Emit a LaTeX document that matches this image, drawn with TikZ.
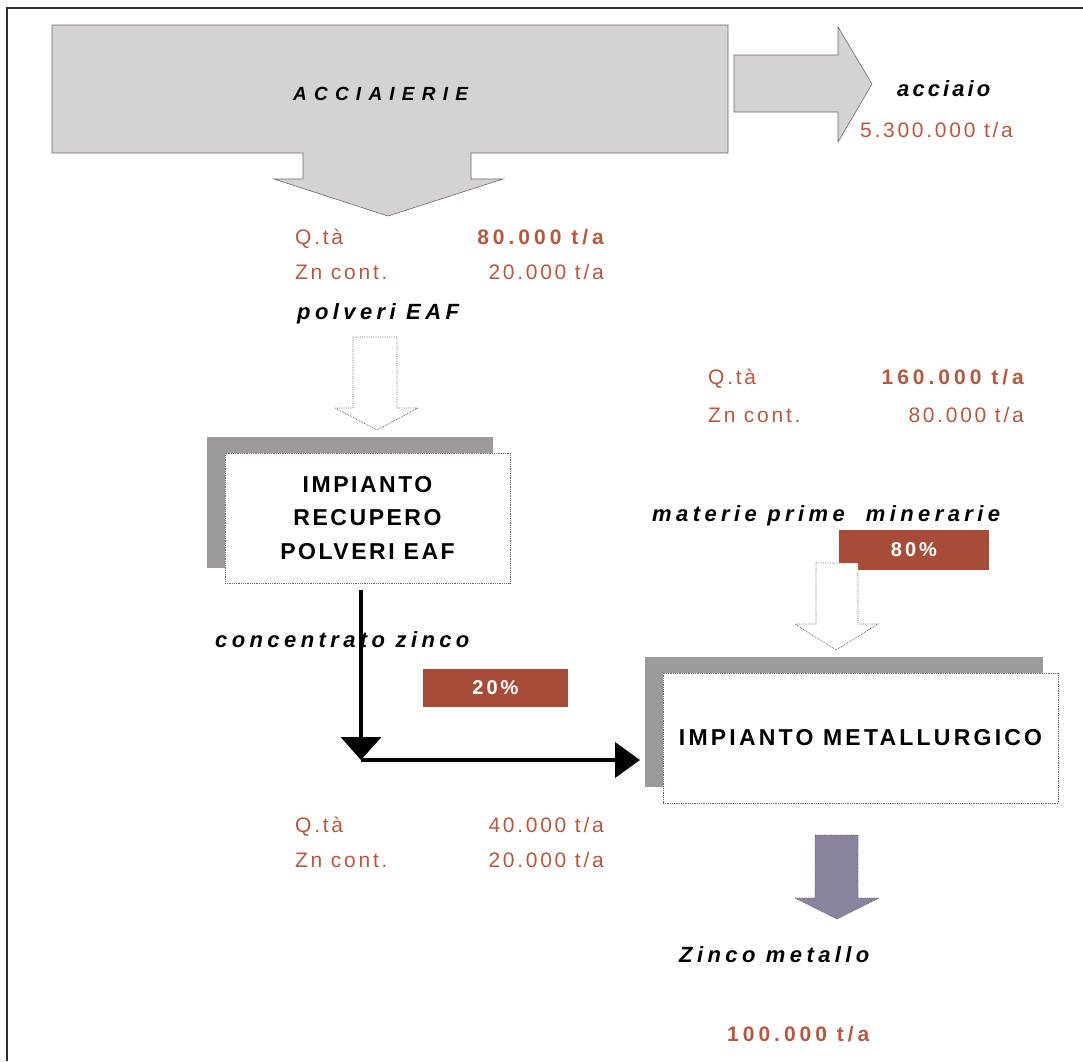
\documentclass[tikz,border=0pt]{standalone}
\usepackage{fontspec}
\setmainfont{Liberation Sans}
\newfontfamily\datafont{Liberation Sans}[LetterSpace=13]
\newfontfamily\databf{Liberation Sans}[LetterSpace=19]
\newfontfamily\labfont{Liberation Sans}[LetterSpace=20]
\newfontfamily\accfont{Liberation Sans}[LetterSpace=14]
\newfontfamily\boxfont{Liberation Sans}[LetterSpace=11]
\newfontfamily\metfont{Liberation Sans}[LetterSpace=14]
\newfontfamily\pctfont{Liberation Sans}[LetterSpace=15]
\newfontfamily\titfont{Liberation Sans}[LetterSpace=38]
\usetikzlibrary{arrows.meta}
\definecolor{brn}{RGB}{182,88,64}
\definecolor{pct}{RGB}{168,76,58}
\definecolor{accfill}{RGB}{214,210,209}
\definecolor{shd}{RGB}{158,154,154}
\definecolor{purp}{RGB}{138,130,158}
\definecolor{framec}{RGB}{45,45,45}
\definecolor{edge}{RGB}{110,105,105}
\tikzset{
  data/.style={font=\datafont\fontsize{21}{24}\selectfont, text=brn, inner sep=0, anchor=base west},
  datar/.style={data, anchor=base east},
  datab/.style={font=\databf\bfseries\fontsize{21}{24}\selectfont, text=brn, inner sep=0, anchor=base east},
  lab/.style={font=\labfont\bfseries\itshape\fontsize{22}{25}\selectfont, inner sep=0, anchor=base west},
  shadowbox/.style={fill=shd, draw=none, inner sep=0},
  blk/.style={fill=white, draw=edge, densely dotted, line width=0.8, inner sep=0, align=center,
    font=\boxfont\bfseries\fontsize{23}{33.5}\selectfont},
  pctbox/.style={fill=pct, text=white, inner sep=0, font=\pctfont\bfseries\fontsize{20}{22}\selectfont},
  hollow/.style={fill=white, draw=edge, densely dotted, line width=0.8},
  blockarrow/.style={fill=accfill, draw=edge, line width=0.6},
  conn/.style={line width=4, draw=black}
}
\begin{document}
\begin{tikzpicture}[x=1pt,y=-1pt]
\useasboundingbox (0,0) rectangle (1083,1061);
% frame
\draw[framec, line width=2] (7,1061) -- (7,8) -- (1083,8);
% ACCIAIERIE block with down arrow
\path[blockarrow] (52,25) -- (728,25) -- (728,153) -- (471,153) -- (471,179) -- (503,179)
  -- (388,216) -- (274,179) -- (303,179) -- (303,153) -- (52,153) -- cycle;
\node[font=\titfont\bfseries\itshape\fontsize{19}{21}\selectfont, inner sep=0, anchor=base west] (acc) at (293,100) {ACCIAIERIE};
% right arrow
\path[blockarrow] (734,55) -- (838,55) -- (838,27) -- (872,84) -- (838,142) -- (838,112) -- (734,112) -- cycle;
\node[font=\accfont\bfseries\itshape\fontsize{22}{25}\selectfont, inner sep=0, anchor=base west] (acciaio) at (897,96) {acciaio};
\node[data] (steelq) at (860,137) {5.300.000 t/a};
% first data block
\node[data] (q1) at (295,244) {Q.tà};
\node[datab] (q1v) at (604,244) {80.000 t/a};
\node[data] (z1) at (295,279) {Zn cont.};
\node[datar] (z1v) at (604,279) {20.000 t/a};
\node[lab] (polv) at (297,319) {polveri EAF};
% hollow arrow 1
\path[hollow] (353,337) -- (397,337) -- (397,408) -- (418,408) -- (377,430) -- (335,408) -- (353,408) -- cycle;
% box 1
\node[shadowbox, minimum width=286, minimum height=131] (recsh) at (350,502.5) {};
\node[blk, minimum width=285, minimum height=130] (rec) at (367.5,518) {IMPIANTO\\RECUPERO\\POLVERI EAF};
% second data block
\node[data] (q2) at (708,384) {Q.tà};
\node[datab] (q2v) at (1024,384) {160.000 t/a};
\node[data] (z2) at (708,422) {Zn cont.};
\node[datar] (z2v) at (1024,422) {80.000 t/a};
\node[lab] (mat) at (652,521) {materie prime \ minerarie};
\node[pctbox, minimum width=150, minimum height=40] (p80) at (914,550) {80\%};
% hollow arrow 2
\path[hollow] (816,563) -- (858,563) -- (858,624) -- (878,624) -- (836,650) -- (795,624) -- (816,624) -- cycle;
% metallurgico box
\node[shadowbox, minimum width=398, minimum height=130] (metsh) at (844,722) {};
\node[blk, font=\metfont\bfseries\fontsize{23}{33.5}\selectfont, minimum width=395, minimum height=130] (met) at (860.5,738) {IMPIANTO METALLURGICO};
% concentrato
\node[lab] (conc) at (215,647) {concentrato zinco};
\node[pctbox, minimum width=145, minimum height=38] (p20) at (495.5,688) {20\%};
\coordinate (cz) at (361,590);
\coordinate (corner) at (361,760);
\coordinate (mete) at (640,760);
\draw[conn, -{Triangle[width=40pt,length=23pt]}] (cz) -- (corner);
\draw[conn, -{Triangle[width=35pt,length=25pt]}] (corner) -- (mete);
% third data block
\node[data] (q3) at (295,832) {Q.tà};
\node[datar] (q3v) at (604,832) {40.000 t/a};
\node[data] (z3) at (295,867) {Zn cont.};
\node[datar] (z3v) at (604,867) {20.000 t/a};
% output arrow
\path[fill=purp, draw=edge, densely dotted, line width=0.8] (815,835) -- (858,835) -- (858,898) -- (879,898) -- (837,919) -- (795,898) -- (815,898) -- cycle;
\node[lab] (zm) at (679,962) {Zinco metallo};
\node[datab, anchor=base west] (zmv) at (727,1041) {100.000 t/a};
\end{tikzpicture}
\end{document}
